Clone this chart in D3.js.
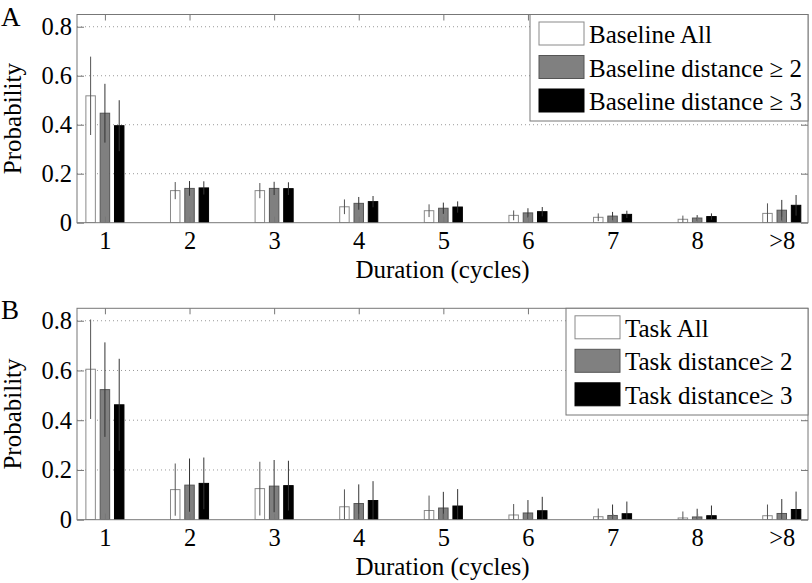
<!DOCTYPE html>
<html><head><meta charset="utf-8">
<script src="https://cdn.jsdelivr.net/npm/d3@7"></script>
<style>
body{margin:0;background:#fff;}
svg{display:block;}
svg text{font-family:"Liberation Serif","Tinos","Times New Roman","DejaVu Serif",serif !important;}
</style></head>
<body><svg id="c" width="812" height="583"></svg>
<script>
const categories = ["1","2","3","4","5","6","7","8",">8"];
const yTicks = [0,0.2,0.4,0.6,0.8];
const yTickLabels = ["0","0.2","0.4","0.6","0.8"];

const baseAll    = [0.518,0.131,0.131,0.065,0.049,0.030,0.022,0.014,0.038];
const baseAllErr = [0.160,0.035,0.031,0.030,0.026,0.020,0.016,0.015,0.041];
const baseD2     = [0.447,0.140,0.140,0.079,0.059,0.040,0.027,0.019,0.051];
const baseD2Err  = [0.120,0.030,0.027,0.026,0.023,0.019,0.017,0.012,0.042];
const baseD3     = [0.396,0.142,0.139,0.086,0.064,0.045,0.034,0.025,0.071];
const baseD3Err  = [0.104,0.027,0.026,0.023,0.023,0.019,0.015,0.013,0.042];

const taskAll    = [0.605,0.121,0.125,0.052,0.037,0.019,0.012,0.007,0.016];
const taskAllErr = [0.200,0.105,0.108,0.070,0.060,0.044,0.033,0.026,0.045];
const taskD2     = [0.523,0.139,0.135,0.065,0.047,0.027,0.017,0.011,0.025];
const taskD2Err  = [0.190,0.107,0.105,0.077,0.065,0.052,0.044,0.033,0.058];
const taskD3     = [0.462,0.146,0.137,0.077,0.055,0.036,0.024,0.016,0.041];
const taskD3Err  = [0.185,0.104,0.100,0.078,0.068,0.056,0.049,0.041,0.072];

const legendA = ["Baseline All","Baseline distance \u2265 2","Baseline distance \u2265 3"];
const legendB = ["Task All","Task distance\u2265 2","Task distance\u2265 3"];

const fills = ["#ffffff","#808080","#000000"];
const edges = ["#8a8a8a","#555555","#000000"];
const errColors = ["#555555","#333333","#333333"];

const FONT = '"Liberation Serif","Tinos","Times New Roman","DejaVu Serif",serif';
const svg = d3.select("#c");
const L = 77, R = 808;

function txt(sel){ return sel.attr("font-family",FONT).attr("fill","#000"); }

function panel(cfg){
  const {top,bottom,letter,series,errs,legend,legLeft,legBottom,id} = cfg;
  const g = svg.append("g");
  const x = d3.scaleLinear().domain([0.67,9.31]).range([L,R]);
  const y = d3.scaleLinear().domain([0,0.85]).range([bottom,top]);
  const unit = x(2)-x(1);
  const off = [-0.169,0,0.169];
  const bw = 0.112*unit;

  g.append("clipPath").attr("id","clip"+id).append("rect")
    .attr("x",L).attr("y",top).attr("width",R-L).attr("height",bottom-top);

  g.selectAll(".grid").data(yTicks.filter(v=>v>0)).enter().append("line")
    .attr("x1",L).attr("x2",R).attr("y1",d=>y(d)).attr("y2",d=>y(d))
    .attr("stroke","#9a9a9a").attr("stroke-width",1).attr("stroke-dasharray","1,3");

  const plot = g.append("g").attr("clip-path","url(#clip"+id+")");
  series.forEach((s,si)=>{
    plot.selectAll(".b"+si).data(s).enter().append("rect")
      .attr("x",(d,i)=>x(i+1+off[si])-bw/2)
      .attr("width",bw)
      .attr("y",d=>y(d)).attr("height",d=>y(0)-y(d))
      .attr("fill",fills[si]).attr("stroke",edges[si]).attr("stroke-width",1);
  });
  series.forEach((s,si)=>{
    plot.selectAll(".e"+si).data(s).enter().append("line")
      .attr("x1",(d,i)=>x(i+1+off[si])).attr("x2",(d,i)=>x(i+1+off[si]))
      .attr("y1",(d,i)=>y(d+errs[si][i])).attr("y2",(d,i)=>y(Math.max(0,d-errs[si][i])))
      .attr("stroke",errColors[si]).attr("stroke-width",1);
  });

  g.append("rect").attr("x",L).attr("y",top).attr("width",R-L).attr("height",bottom-top)
    .attr("fill","none").attr("stroke","#777").attr("stroke-width",1);

  const ax = d3.axisBottom(x).tickValues(d3.range(1,10)).tickFormat((d,i)=>categories[i])
    .tickSize(-6).tickPadding(9);
  const gx = g.append("g").attr("transform",`translate(0,${bottom})`).call(ax);
  const axT = d3.axisTop(x).tickValues(d3.range(1,10)).tickFormat("").tickSize(-6);
  const gxt = g.append("g").attr("transform",`translate(0,${top})`).call(axT);
  const ay = d3.axisLeft(y).tickValues(yTicks).tickFormat((d,i)=>yTickLabels[i])
    .tickSize(-7).tickPadding(5);
  const gy = g.append("g").attr("transform",`translate(${L},0)`).call(ay);
  const ayR = d3.axisRight(y).tickValues(yTicks).tickFormat("").tickSize(-7);
  const gyr = g.append("g").attr("transform",`translate(${R},0)`).call(ayR);
  [gx,gxt,gy,gyr].forEach(a=>{
    a.attr("font-family",FONT).attr("font-size",24);
    a.select(".domain").remove();
    a.selectAll("line").attr("stroke","#777");
    txt(a.selectAll("text")).attr("font-size",24.5);
  });

  txt(g.append("text")).attr("x",(L+R)/2).attr("y",bottom+55).attr("text-anchor","middle")
    .attr("font-size",25).text("Duration (cycles)");
  txt(g.append("text")).attr("transform",`translate(21,${(top+bottom)/2}) rotate(-90)`)
    .attr("text-anchor","middle").attr("font-size",25).text("Probability");
  txt(g.append("text")).attr("x",1).attr("y",top+11).attr("font-size",27).text(letter);

  const lg = g.append("g");
  lg.append("rect").attr("x",legLeft).attr("y",top).attr("width",R-legLeft).attr("height",legBottom-top)
    .attr("fill","#fff").attr("stroke","#777").attr("stroke-width",1);
  legend.forEach((t,i)=>{
    const ry = top + 7.5 + i*33.5;
    lg.append("rect").attr("x",legLeft+9).attr("y",ry).attr("width",45).attr("height",23)
      .attr("fill",fills[i]).attr("stroke",edges[i]).attr("stroke-width",1);
    txt(lg.append("text")).attr("x",legLeft+59).attr("y",ry+21).attr("font-size",25).text(t);
  });
}

panel({id:"A",top:14.5,bottom:222.7,letter:"A",series:[baseAll,baseD2,baseD3],
  errs:[baseAllErr,baseD2Err,baseD3Err],legend:legendA,legLeft:530,legBottom:121});
panel({id:"B",top:308.3,bottom:519.7,letter:"B",series:[taskAll,taskD2,taskD3],
  errs:[taskAllErr,taskD2Err,taskD3Err],legend:legendB,legLeft:566,legBottom:415});
</script></body></html>
